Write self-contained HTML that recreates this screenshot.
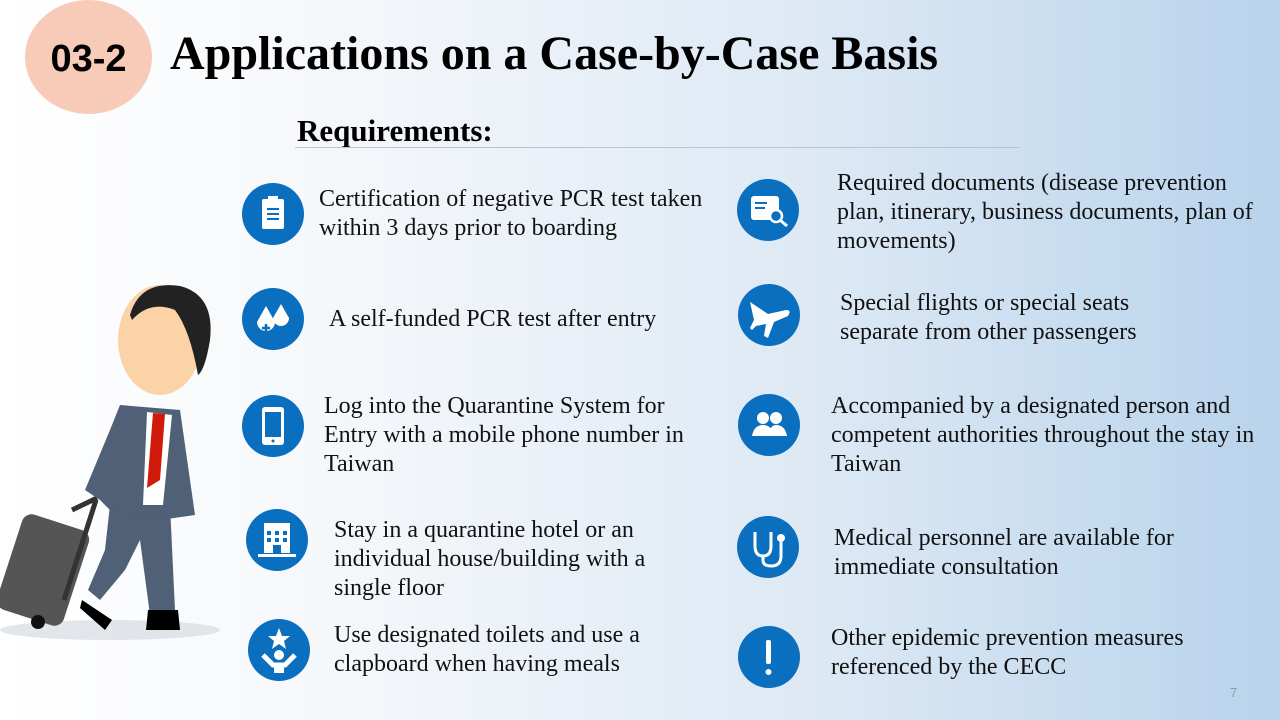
<!DOCTYPE html>
<html><head><meta charset="utf-8"><style>
body{margin:0;width:1280px;height:720px;overflow:hidden;position:relative;
background:linear-gradient(90deg,#ffffff 0%,#f3f6fa 30%,#dce8f4 65%,#b8d3ec 100%);
font-family:"Liberation Serif",serif;color:#111}
.t{position:absolute;font-size:24px;line-height:29px;white-space:nowrap;margin-top:2px}
.ic{position:absolute;width:62px;height:62px;border-radius:50%;background:#0b6fbf}
.ic svg{width:62px;height:62px;display:block}
</style></head><body>
<div style="position:absolute;left:25px;top:0;width:127px;height:114px;border-radius:50%;background:#f8cbb9"></div>
<div style="position:absolute;left:25px;top:38px;width:127px;text-align:center;font:bold 38px 'Liberation Sans',sans-serif;color:#000">03-2</div>
<div style="position:absolute;left:170px;top:26px;font:bold 48px 'Liberation Serif',serif;color:#000;white-space:nowrap">Applications on a Case-by-Case Basis</div>
<div style="position:absolute;left:297px;top:113px;font:bold 31px 'Liberation Serif',serif;color:#000">Requirements:</div>
<div style="position:absolute;left:295px;top:147px;width:725px;height:1px;background:#b8c4d0"></div>

<!-- person -->
<svg style="position:absolute;left:0;top:270px" width="240" height="370" viewBox="0 260 240 370">
<ellipse cx="110" cy="620" rx="110" ry="10" fill="#d5dbe2" opacity=".7"/>
<rect x="8" y="510" width="70" height="100" rx="10" fill="#555" transform="rotate(18 43 560)"/>
<line x1="72" y1="500" x2="97" y2="488" stroke="#333" stroke-width="5"/>
<line x1="96" y1="490" x2="64" y2="590" stroke="#333" stroke-width="5"/>
<circle cx="38" cy="612" r="7" fill="#111"/>
<path d="M110 495 L170 495 L175 600 L150 605 L140 530 L125 560 L100 590 L88 580 L105 540Z" fill="#4f6077"/>
<path d="M82 590 L112 610 L105 620 L80 598Z" fill="#000"/>
<path d="M148 600 L178 600 L180 620 L146 620Z" fill="#000"/>
<path d="M120 395 L180 400 L195 505 L160 510 L110 500 L100 490 L85 480 L110 420Z" fill="#4f6077"/>
<path d="M147 402 L172 405 L163 495 L143 495Z" fill="#fff"/>
<path d="M153 403 L165 404 L160 470 L147 478Z" fill="#d01a0c"/>
<ellipse cx="160" cy="330" rx="42" ry="55" fill="#fcd3a6"/>
<path d="M130 305 Q140 270 180 276 Q215 285 210 330 Q205 360 198 365 Q190 320 175 300 Q150 290 132 310Z" fill="#222"/>
</svg>

<!-- left icons -->
<div class="ic" style="left:242px;top:183px"><svg viewBox="0 0 62 62"><rect x="20" y="16" width="22" height="30" rx="2" fill="#fff"/><rect x="26" y="13" width="10" height="5" fill="#fff"/><g stroke="#0b6fbf" stroke-width="2"><line x1="25" y1="26" x2="37" y2="26"/><line x1="25" y1="31" x2="37" y2="31"/><line x1="25" y1="36" x2="37" y2="36"/></g></svg></div>
<div class="ic" style="left:242px;top:288px"><svg viewBox="0 0 62 62"><path d="M24 18 L33 34 A9 9 0 1 1 15 34Z" fill="#fff"/><path d="M39 16 L47 30 A8 8 0 1 1 31 30Z" fill="#fff"/><path d="M24 36v8M20 40h8" stroke="#0b6fbf" stroke-width="2.5"/></svg></div>
<div class="ic" style="left:242px;top:395px"><svg viewBox="0 0 62 62"><rect x="20" y="12" width="22" height="38" rx="3" fill="#fff"/><rect x="23" y="17" width="16" height="25" fill="#0b6fbf"/><circle cx="31" cy="46" r="1.5" fill="#0b6fbf"/></svg></div>
<div class="ic" style="left:246px;top:509px"><svg viewBox="0 0 62 62"><rect x="18" y="14" width="26" height="30" fill="#fff"/><g fill="#0b6fbf"><rect x="21" y="22" width="4" height="4"/><rect x="29" y="22" width="4" height="4"/><rect x="37" y="22" width="4" height="4"/><rect x="21" y="29" width="4" height="4"/><rect x="29" y="29" width="4" height="4"/><rect x="37" y="29" width="4" height="4"/><rect x="27" y="36" width="8" height="8"/></g><rect x="12" y="45" width="38" height="3" fill="#fff"/></svg></div>
<div class="ic" style="left:248px;top:619px"><svg viewBox="0 0 62 62"><polygon points="31,9 34,17 42,17 36,22 38,30 31,25 24,30 26,22 20,17 28,17" fill="#fff"/><circle cx="31" cy="36" r="5" fill="#fff"/><path d="M15 36 L25 46 L37 46 L47 36" stroke="#fff" stroke-width="5" fill="none"/><rect x="26" y="44" width="10" height="10" fill="#fff"/></svg></div>

<!-- right icons -->
<div class="ic" style="left:737px;top:179px"><svg viewBox="0 0 62 62"><rect x="14" y="17" width="28" height="24" rx="3" fill="#fff"/><g stroke="#0b6fbf" stroke-width="2"><line x1="18" y1="24" x2="30" y2="24"/><line x1="18" y1="29" x2="28" y2="29"/></g><circle cx="39" cy="37" r="6" fill="#0b6fbf" stroke="#fff" stroke-width="2.5"/><line x1="43" y1="41" x2="50" y2="47" stroke="#fff" stroke-width="3"/></svg></div>
<div class="ic" style="left:738px;top:284px"><svg viewBox="0 0 62 62"><path d="M12 18 L30 30 L48 26 Q54 26 50 32 L36 38 L30 54 L26 52 L28 40 L18 42 L14 46 L12 44 L16 36 Z" fill="#fff"/></svg></div>
<div class="ic" style="left:738px;top:394px"><svg viewBox="0 0 62 62"><circle cx="25" cy="24" r="6" fill="#fff"/><circle cx="38" cy="24" r="6" fill="#fff"/><path d="M14 42 Q16 31 25 31 Q34 31 36 42Z" fill="#fff"/><path d="M30 42 Q32 31 38 31 Q47 31 49 42Z" fill="#fff"/></svg></div>
<div class="ic" style="left:737px;top:516px"><svg viewBox="0 0 62 62"><path d="M18 16 V30 Q18 40 26 40 Q34 40 34 30 V16" stroke="#fff" stroke-width="3" fill="none"/><path d="M26 40 V44 Q26 50 34 50 Q44 50 44 40 V26" stroke="#fff" stroke-width="3" fill="none"/><circle cx="44" cy="22" r="4" fill="#fff"/></svg></div>
<div class="ic" style="left:738px;top:626px"><svg viewBox="0 0 62 62"><rect x="28" y="14" width="5" height="24" rx="2" fill="#fff"/><circle cx="30.5" cy="46" r="3" fill="#fff"/></svg></div>

<div class="t" style="left:319px;top:183px">Certification of negative PCR test taken<br>within 3 days prior to boarding</div>
<div class="t" style="left:329px;top:303px">A self-funded PCR test after entry</div>
<div class="t" style="left:324px;top:390px">Log into the Quarantine System for<br>Entry with a mobile phone number in<br>Taiwan</div>
<div class="t" style="left:334px;top:514px">Stay in a quarantine hotel or an<br>individual house/building with a<br>single floor</div>
<div class="t" style="left:334px;top:619px">Use designated toilets and use a<br>clapboard when having meals</div>

<div class="t" style="left:837px;top:167px">Required documents (disease prevention<br>plan, itinerary, business documents, plan of<br>movements)</div>
<div class="t" style="left:840px;top:287px">Special flights or special seats<br>separate from other passengers</div>
<div class="t" style="left:831px;top:390px">Accompanied by a designated person and<br>competent authorities throughout the stay in<br>Taiwan</div>
<div class="t" style="left:834px;top:522px">Medical personnel are available for<br>immediate consultation</div>
<div class="t" style="left:831px;top:622px">Other epidemic prevention measures<br>referenced by the CECC</div>
<div style="position:absolute;left:1230px;top:685px;font:13px 'Liberation Sans',sans-serif;color:#8a9aaa">7</div>
</body></html>
